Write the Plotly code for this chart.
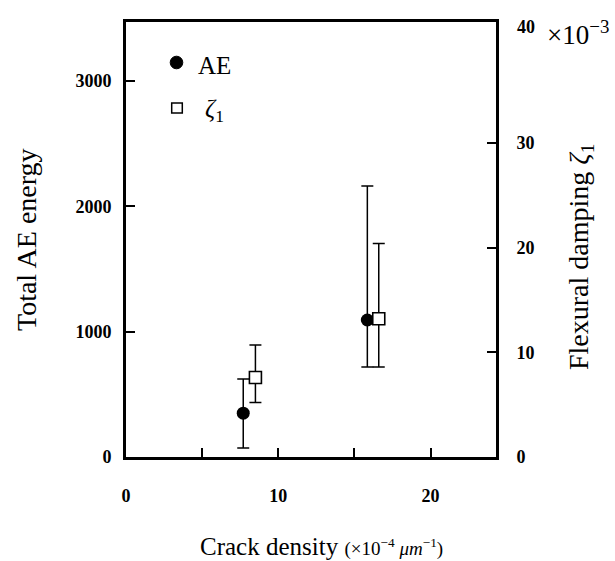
import plotly.graph_objects as go

# Data
ae_x = [7.7, 15.85]
ae_y = [350, 1093]
ae_err_plus = [272, 1070]
ae_err_minus = [278, 375]

zeta_x = [8.5, 16.6]
zeta_y = [7.6, 13.2]
zeta_err_plus = [3.1, 7.2]
zeta_err_minus = [2.4, 4.6]

x_tickvals = [0, 10, 20]
x_minor_ticks = [5, 15]
y_tickvals = [0, 1000, 2000, 3000]
y2_tickvals = [0, 10, 20, 30]

SERIF = "Liberation Serif, Times New Roman, serif"

fig = go.Figure()

fig.add_trace(go.Scatter(
    x=ae_x, y=ae_y, mode="markers", name="AE",
    marker=dict(symbol="circle", size=13, color="black"),
    error_y=dict(type="data", symmetric=False, array=ae_err_plus,
                 arrayminus=ae_err_minus, color="black", thickness=1.5, width=6),
    yaxis="y", showlegend=False))

fig.add_trace(go.Scatter(
    x=zeta_x, y=zeta_y, mode="markers", name="ζ1",
    marker=dict(symbol="square", size=12, color="white",
                line=dict(color="black", width=1.6)),
    error_y=dict(type="data", symmetric=False, array=zeta_err_plus,
                 arrayminus=zeta_err_minus, color="black", thickness=1.5, width=6),
    yaxis="y2", showlegend=False))

tickfont = dict(family=SERIF, size=18, color="black", weight="bold")

fig.update_layout(
    width=615, height=561,
    margin=dict(l=126, r=119, t=22, b=104),
    paper_bgcolor="white", plot_bgcolor="white",
    xaxis=dict(range=[0, 24.3], tickvals=x_tickvals,
               ticks="inside", ticklen=9, tickwidth=1.5, tickcolor="black",
               minor=dict(tickvals=x_minor_ticks, ticks="inside", ticklen=9,
                          tickwidth=1.5, tickcolor="black", showgrid=False),
               showline=True, linewidth=3, linecolor="black", mirror=True,
               showgrid=False, zeroline=False, tickfont=tickfont,
               ticklabelstandoff=20),
    yaxis=dict(range=[0, 3471], tickvals=y_tickvals,
               ticks="inside", ticklen=9, tickwidth=1.5, tickcolor="black",
               showline=True, linewidth=3, linecolor="black",
               showgrid=False, zeroline=False, tickfont=tickfont,
               ticklabelstandoff=8),
    yaxis2=dict(range=[0, 41.55], tickvals=y2_tickvals, overlaying="y", side="right",
                ticks="inside", ticklen=9, tickwidth=1.5, tickcolor="black",
                showline=True, linewidth=3, linecolor="black",
                showgrid=False, zeroline=False, tickfont=tickfont,
                ticklabelstandoff=14),
)


def px2paper(px, py):
    return (px - 126) / 370, (457 - py) / 435


def ann(text, px, py, size, xanchor="center", angle=0):
    x, y = px2paper(px, py)
    return dict(text=text, x=x, y=y, xref="paper", yref="paper",
                xanchor=xanchor, yanchor="middle", textangle=angle,
                showarrow=False, font=dict(family=SERIF, size=size, color="black"))


annotations = [
    ann("Total AE energy", 27, 240, 28, angle=-90),
    ann("Flexural damping <i>ζ</i><sub>1</sub>", 580, 257, 28, angle=-90),
    ann("Crack density <span style='font-size:19px'>(×10<sup>−4</sup> <i>μm</i><sup>−1</sup>)</span>",
        198, 546, 25, xanchor="left"),
    ann("<b>40</b>", 526, 27, 18),
    ann("×10<sup>−3</sup>", 545, 33, 27, xanchor="left"),
    ann("AE", 196, 65, 25, xanchor="left"),
    ann("<i>ζ</i><sub>1</sub>", 203, 110, 25, xanchor="left"),
]
fig.update_layout(annotations=annotations)

# legend symbols
cx, cy = px2paper(176.5, 62.5)
r_x, r_y = 6.3 / 370, 6.3 / 435
sx, sy = px2paper(177, 108)
h_x, h_y = 5.3 / 370, 5.0 / 435
fig.update_layout(shapes=[
    dict(type="circle", xref="paper", yref="paper", x0=cx - r_x, x1=cx + r_x,
         y0=cy - r_y, y1=cy + r_y, fillcolor="black", line=dict(color="black", width=1)),
    dict(type="rect", xref="paper", yref="paper", x0=sx - h_x, x1=sx + h_x,
         y0=sy - h_y, y1=sy + h_y, fillcolor="white", line=dict(color="black", width=1.5)),
])

fig.write_html("out.html")
